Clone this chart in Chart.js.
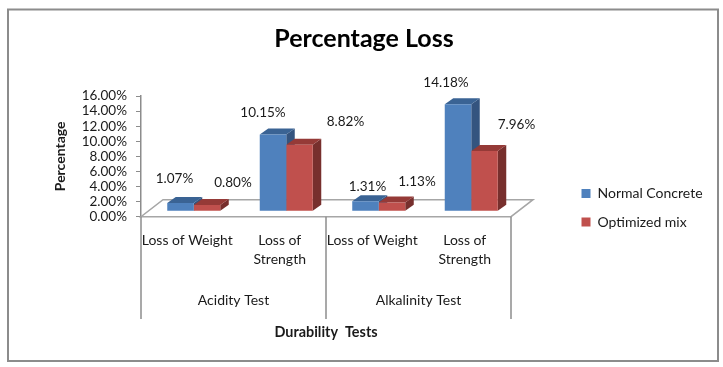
<!DOCTYPE html>
<html>
<head>
<meta charset="utf-8">
<style>
  html, body { margin: 0; padding: 0; background: #fff; }
  #wrap { width: 723px; height: 367px; }
</style>
<script src="https://cdn.jsdelivr.net/npm/chart.js@4/dist/chart.umd.min.js"></script>
</head>
<body>
<div id="wrap"><canvas id="graph"></canvas></div>
<script>
const categories = [['Loss of Weight'], ['Loss of', 'Strength'], ['Loss of Weight'], ['Loss of', 'Strength']];
const groups = ['Acidity Test', 'Alkalinity Test'];
const normalConcrete = [1.07, 10.15, 1.31, 14.18];
const optimizedMix = [0.80, 8.82, 1.13, 7.96];
const yTickLabels = ['0.00%', '2.00%', '4.00%', '6.00%', '8.00%', '10.00%', '12.00%', '14.00%', '16.00%'];

const FONT = 'Lato, "Open Sans", sans-serif';
const GREY = '#8c8c8c';
const TEXT = '#1a1a1a';

// the excel look: bars sit a bit inside the floor and have a depth
const inset = { x: 6.5, y: -5.5 };
const depth = { x: 8.5, y: -6 };
const floorDepth = { x: 22, y: -17 };

// data labels were moved by hand in the original, [dx, dy] from the bar top
const labelNudge = [
  [[-6, -24], [-10, -22], [2, -15], [-12, -22]],
  [[26, -22], [46, -23], [25, -21], [32, -26]]
];

const sideColors = ['#34547f', '#772f2d'];
const topColors = ['#3a6394', '#953a37'];

function poly(ctx, pts, fill) {
  ctx.beginPath();
  pts.forEach(function (p, i) {
    if (i === 0) ctx.moveTo(p[0], p[1]);
    else ctx.lineTo(p[0], p[1]);
  });
  ctx.closePath();
  ctx.fillStyle = fill;
  ctx.fill();
}

const fakeThreeD = {
  id: 'fakeThreeD',
  afterLayout: function (chart) {
    // legend stays out of the layout, just pin it
    let legend = chart.legend;
    legend.left = 567;
    legend.right = 723;
    legend.top = 172;
    legend.bottom = 320;
    // title is centred on the whole picture less the frame
    chart.titleBlock.right = 728;
  },
  beforeDraw: function (chart) {
    let ctx = chart.ctx;
    ctx.save();
    ctx.strokeStyle = GREY;
    ctx.lineWidth = 2;
    ctx.strokeRect(8, 9.5, 710, 351.5);
    ctx.restore();
  },
  beforeDatasetsDraw: function (chart) {
    let ctx = chart.ctx;
    let left = chart.scales.x.left;
    let right = chart.scales.x.right;
    let y0 = chart.scales.y.getPixelForValue(0);
    ctx.save();
    // floor
    ctx.strokeStyle = '#a6a6a6';
    ctx.lineWidth = 1.5;
    ctx.beginPath();
    ctx.moveTo(left, y0);
    ctx.lineTo(right, y0);
    ctx.lineTo(right + floorDepth.x, y0 + floorDepth.y);
    ctx.lineTo(left + floorDepth.x, y0 + floorDepth.y);
    ctx.closePath();
    ctx.stroke();
    // group separators under the axis
    ctx.strokeStyle = GREY;
    ctx.lineWidth = 1.5;
    [left, (left + right) / 2, right].forEach(function (x) {
      ctx.beginPath();
      ctx.moveTo(x, y0);
      ctx.lineTo(x, 319);
      ctx.stroke();
    });
    ctx.translate(inset.x, inset.y);
    // side and top faces, the fronts come from chart.js on top of them
    categories.forEach(function (c, i) {
      chart.data.datasets.forEach(function (d, k) {
        let bar = chart.getDatasetMeta(k).data[i];
        let l = bar.x - bar.width / 2;
        let r = bar.x + bar.width / 2;
        poly(ctx, [[r, bar.y], [r + depth.x, bar.y + depth.y], [r + depth.x, bar.base + depth.y], [r, bar.base]], sideColors[k]);
        poly(ctx, [[l, bar.y], [l + depth.x, bar.y + depth.y], [r + depth.x, bar.y + depth.y], [r, bar.y]], topColors[k]);
      });
    });
    ctx.restore();
    ctx.save();
    ctx.translate(inset.x, inset.y);
  },
  afterDatasetsDraw: function (chart) {
    let ctx = chart.ctx;
    ctx.restore();
    ctx.save();
    ctx.fillStyle = TEXT;
    ctx.textAlign = 'center';
    ctx.textBaseline = 'middle';
    ctx.font = '13.5px ' + FONT;
    chart.data.datasets.forEach(function (d, k) {
      chart.getDatasetMeta(k).data.forEach(function (bar, i) {
        let nudge = labelNudge[k][i];
        ctx.fillText(d.data[i].toFixed(2) + '%', bar.x + inset.x + nudge[0], bar.y + inset.y + nudge[1]);
      });
    });
    // second level of the category axis
    ctx.font = '14px ' + FONT;
    let x = chart.scales.x;
    groups.forEach(function (g, i) {
      ctx.fillText(g, (x.getPixelForValue(i * 2) + x.getPixelForValue(i * 2 + 1)) / 2, 300);
    });
    ctx.restore();
  }
};

new Chart(document.getElementById('graph'), {
  type: 'bar',
  data: {
    labels: categories,
    datasets: [
      { label: 'Normal Concrete', data: normalConcrete, backgroundColor: '#4f81bd' },
      { label: 'Optimized mix', data: optimizedMix, backgroundColor: '#c0504d' }
    ]
  },
  options: {
    responsive: true,
    maintainAspectRatio: false,
    animation: false,
    layout: { padding: { top: 0, left: 0, right: 212, bottom: 26 } },
    datasets: { bar: { barPercentage: 1, categoryPercentage: 0.573 } },
    plugins: {
      title: {
        display: true,
        text: 'Percentage Loss',
        color: '#000',
        font: { family: FONT, size: 25, weight: 'bold' },
        padding: { top: 24, bottom: 42 }
      },
      legend: {
        position: 'chartArea',
        align: 'start',
        labels: {
          boxWidth: 9,
          boxHeight: 9,
          padding: 14.5,
          color: TEXT,
          font: { family: FONT, size: 14 }
        }
      },
      tooltip: { enabled: false }
    },
    scales: {
      x: {
        grid: { display: false, drawTicks: false },
        border: { display: false },
        ticks: {
          padding: 14,
          maxRotation: 0,
          autoSkip: false,
          color: TEXT,
          font: { family: FONT, size: 14, lineHeight: 1.36 }
        },
        title: {
          display: true,
          text: 'Durability  Tests',
          color: TEXT,
          font: { family: FONT, size: 14.4, weight: 'bold' },
          padding: { top: 41, bottom: 0 }
        }
      },
      y: {
        min: 0,
        max: 16,
        afterFit: function (scale) { scale.width = 141; },
        grid: { drawOnChartArea: false, color: GREY, tickLength: 5 },
        border: { color: GREY, width: 1.5 },
        ticks: {
          stepSize: 2,
          padding: 9,
          autoSkip: false,
          color: TEXT,
          font: { family: FONT, size: 13.5 },
          callback: function (v, i) { return yTickLabels[i]; }
        },
        title: {
          display: true,
          text: 'Percentage',
          color: TEXT,
          font: { family: FONT, size: 14, weight: 'bold' },
          padding: { top: 52, bottom: 0 }
        }
      }
    }
  },
  plugins: [fakeThreeD]
});
</script>
</body>
</html>
